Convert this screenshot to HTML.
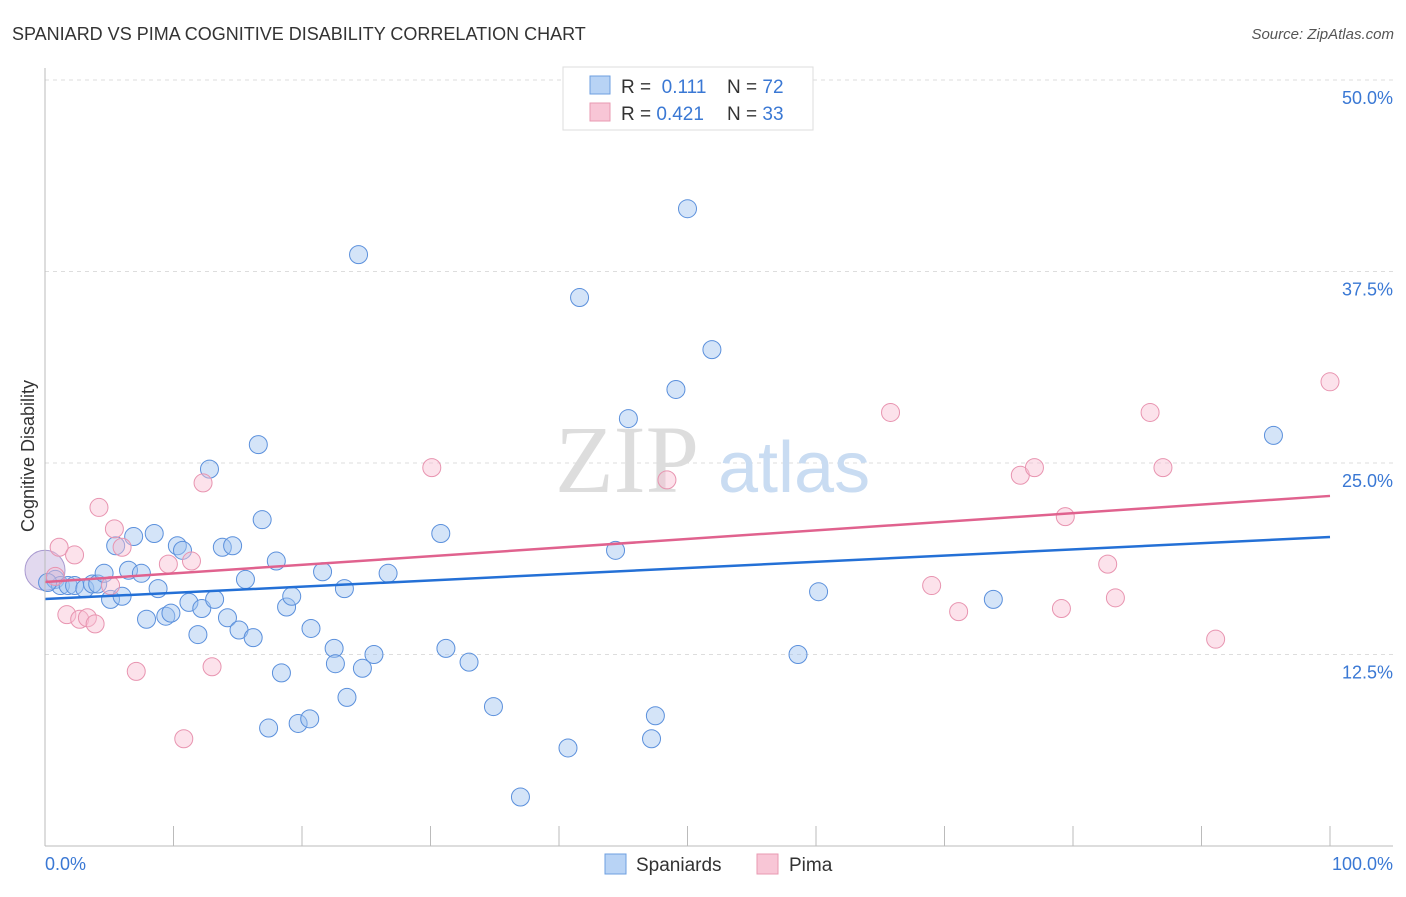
<!DOCTYPE html>
<html><head><meta charset="utf-8"><style>
body{margin:0;background:#fff;font-family:"Liberation Sans",sans-serif}
</style></head><body>
<svg width="1406" height="892" xmlns="http://www.w3.org/2000/svg" style="font-family:'Liberation Sans',sans-serif">
<text x="12" y="40" font-size="18" fill="#333">SPANIARD VS PIMA COGNITIVE DISABILITY CORRELATION CHART</text>
<text x="1394" y="39" font-size="15" fill="#555" font-style="italic" text-anchor="end">Source: ZipAtlas.com</text>
<g id="grid"></g>
<text x="555" y="492" font-size="96" fill="#ddd" font-family="Liberation Serif">ZIP</text>
<text x="718" y="492" font-size="72" fill="#c9dcf2">atlas</text>
<g id="pts"></g>
<g id="axes"></g>
<text x="34" y="456" font-size="18" fill="#333" text-anchor="middle" transform="rotate(-90 34 456)">Cognitive Disability</text>
<text x="45" y="870" font-size="18" fill="#3a78d4">0.0%</text>
<text x="1393" y="870" font-size="18" fill="#3a78d4" text-anchor="end">100.0%</text>
<g>
<rect x="563" y="67" width="250" height="63" fill="#fff" stroke="#ddd"/>
<rect x="590" y="76" width="20" height="18" fill="#b8d3f5" stroke="#6e9fe0"/>
<rect x="590" y="103" width="20" height="18" fill="#f8c6d6" stroke="#e89ab2"/>
<text x="621" y="93" font-size="19" fill="#333">R = <tspan fill="#3a78d4">&#160;0.111</tspan><tspan x="727">N = </tspan><tspan fill="#3a78d4">72</tspan></text>
<text x="621" y="120" font-size="19" fill="#333">R = <tspan fill="#3a78d4">0.421</tspan><tspan x="727">N = </tspan><tspan fill="#3a78d4">33</tspan></text>
</g>
<g>
<rect x="605" y="854" width="21" height="20" fill="#b8d3f5" stroke="#6e9fe0"/>
<text x="636" y="871" font-size="19" fill="#333">Spaniards</text>
<rect x="757" y="854" width="21" height="20" fill="#f8c6d6" stroke="#e89ab2"/>
<text x="789" y="871" font-size="19" fill="#333">Pima</text>
</g>
</svg>
<script>
const yTicks=[12.5,25,37.5,50];
const yTickLabels=["12.5%","25.0%","37.5%","50.0%"];
const blueX=[0.8,1.2,1.8,2.3,3.1,3.7,4.1,4.6,5.1,5.5,6.0,6.5,6.9,7.5,7.9,8.5,8.8,9.4,9.8,10.3,10.7,11.2,11.9,12.2,12.8,13.2,13.8,14.2,14.6,15.1,15.6,16.2,16.6,16.9,17.4,18.0,18.4,18.8,19.2,19.7,20.6,20.7,21.6,22.5,22.6,23.3,23.5,24.4,24.7,25.6,26.7,30.8,31.2,33.0,34.9,37.0,40.7,41.6,44.4,45.4,47.2,47.5,49.1,50.0,51.9,58.6,60.2,73.8,95.6,0.2];
const blueY=[17.4,17.0,17.0,17.0,16.8,17.1,17.1,17.8,16.1,19.6,16.3,18.0,20.2,17.8,14.8,20.4,16.8,15.0,15.2,19.6,19.3,15.9,13.8,15.5,24.6,16.1,19.5,14.9,19.6,14.1,17.4,13.6,26.2,21.3,7.7,18.6,11.3,15.6,16.3,8.0,8.3,14.2,17.9,12.9,11.9,16.8,9.7,38.6,11.6,12.5,17.8,20.4,12.9,12.0,9.1,3.2,6.4,35.8,19.3,27.9,7.0,8.5,29.8,41.6,32.4,12.5,16.6,16.1,26.8,17.2];
const pinkX=[0.8,1.1,1.7,2.3,2.7,3.3,3.9,4.2,5.4,5.1,6.0,7.1,9.6,10.8,11.4,12.3,13.0,30.1,48.4,65.8,69.0,71.1,75.9,77.0,79.1,79.4,82.7,83.3,86.0,87.0,91.1,100];
const pinkY=[17.6,19.5,15.1,19.0,14.8,14.9,14.5,22.1,20.7,17.0,19.5,11.4,18.4,7.0,18.6,23.7,11.7,24.7,23.9,28.3,17.0,15.3,24.2,24.7,15.5,21.5,18.4,16.2,28.3,24.7,13.5,30.3];
const blueTrend=[16.12,20.17];
const pinkTrend=[17.23,22.85];
const NS="http://www.w3.org/2000/svg";
const X=v=>45+v*12.85, Y=v=>846-v*15.32;
function mk(tag,at,parent){const e=document.createElementNS(NS,tag);for(const k in at)e.setAttribute(k,at[k]);parent.appendChild(e);return e;}
const grid=document.getElementById('grid'),axes=document.getElementById('axes'),pts=document.getElementById('pts');
yTicks.forEach((t,i)=>{
 const l=mk('line',{x1:45,x2:1393,y1:Y(t),y2:Y(t),stroke:'#ddd','stroke-dasharray':'4 4'},grid);
 
 
 const tx=mk('text',{x:1393,y:Y(t)+24,'font-size':18,fill:'#3a78d4','text-anchor':'end'},axes);
 tx.textContent=yTickLabels[i];
 
 
});
mk('line',{x1:45,x2:45,y1:68,y2:846,stroke:'#bbb'},axes);
mk('line',{x1:45,x2:1393,y1:846,y2:846,stroke:'#bbb'},axes);
for(let i=0;i<=10;i++){const t=mk('line',{x1:X(i*10),x2:X(i*10),y1:826,y2:846,stroke:'#bbb'},axes);
 
 }
const big=mk('circle',{cx:X(0),cy:Y(18.0),r:20,fill:'rgba(190,170,220,0.45)',stroke:'#a99ad0'},pts);


blueX.forEach((x,i)=>{const c=mk('circle',{cx:X(x),cy:Y(blueY[i]),r:9,fill:'rgba(160,196,240,0.45)',stroke:'#5b90dc','stroke-width':1},pts);
 
 });
pinkX.forEach((x,i)=>{const c=mk('circle',{cx:X(x),cy:Y(pinkY[i]),r:9,fill:'rgba(248,190,210,0.45)',stroke:'#e894b0','stroke-width':1},pts);
 
 });
const bl=mk('line',{x1:X(0),x2:X(100),y1:Y(blueTrend[0]),y2:Y(blueTrend[1]),stroke:'#2470d6','stroke-width':2.5},pts);


const pl=mk('line',{x1:X(0),x2:X(100),y1:Y(pinkTrend[0]),y2:Y(pinkTrend[1]),stroke:'#e0628e','stroke-width':2.5},pts);


</script>
</body></html>
